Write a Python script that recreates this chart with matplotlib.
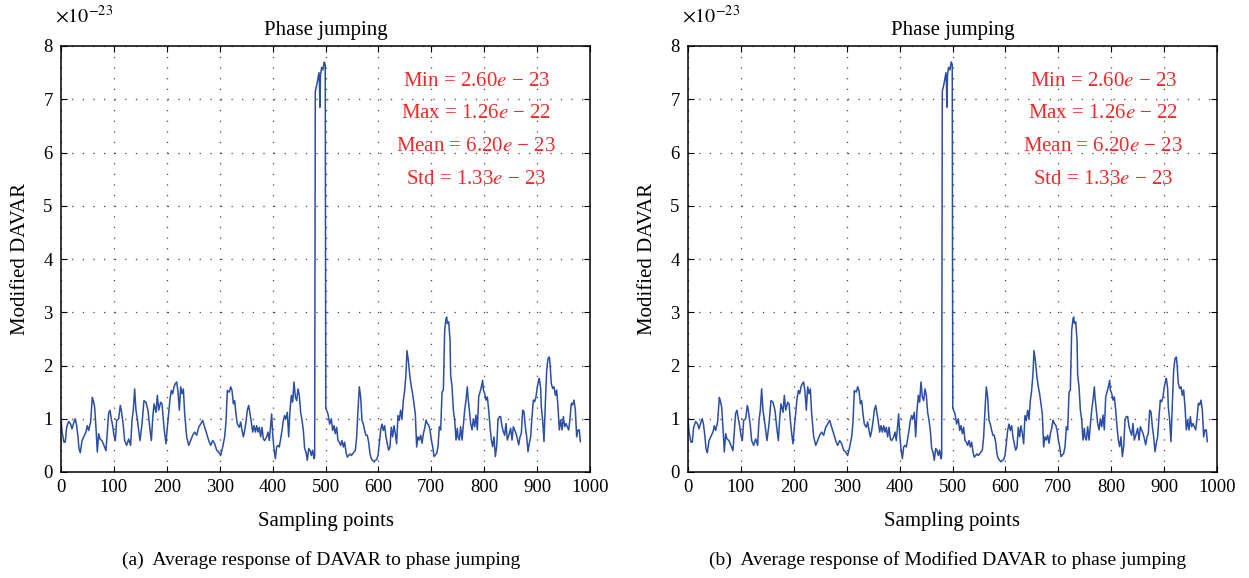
import matplotlib
matplotlib.use("Agg")
import matplotlib.pyplot as plt

plt.rcParams['font.family'] = ['Liberation Serif', 'DejaVu Serif']
plt.rcParams['mathtext.fontset'] = 'stix'

# sampling index and response (x 1e-23)
sample_idx = [
    0, 2, 5.6, 8, 10.7, 14.5, 18.2, 20.8, 24.5, 27, 29.6, 32.1, 34, 36.5, 39.7, 43.4, 47.2, 49.7,
    52.3, 56, 59.2, 61.1, 63.6, 66.8, 68.6, 71.2, 73.7, 77.5, 81.2, 85, 87.5, 90, 92.6, 95.1, 97.6,
    100.1, 102.7, 105.2, 109, 112.1, 114, 117.8, 120.3, 124.1, 127.9, 131.6, 134.2, 136.7, 139.2,
    141.7, 144.2, 146.8, 149.3, 153.1, 156.8, 160.6, 164.4,
    167.7, 170.8, 173.3, 175.8, 179.6, 182.1, 184.7, 188.4, 191, 193.5, 196, 198.5, 201, 203.6,
    206.1, 208.6, 211.1, 213.6, 216.2, 218.7, 221.2, 223.7, 226.2, 228.8, 231.3, 233.8, 237.6,
    241.4, 245.1, 248.9, 252.7, 256.5, 260.3, 264, 267.8, 271.6, 275.4, 279.2, 282.9, 286.7,
    290.5, 294.3, 298.1, 301.8, 305.6, 309.4, 311.9, 314.4, 318.2, 320.7, 323.3, 325.8, 328.3,
    330.8, 333.3,
    337.1, 339.6, 342.2, 344.7, 347.2, 349.7, 352.2, 354.8, 357.3, 359.8, 362.3, 364.8, 367.4,
    369.9, 372.4, 374.9, 377.4, 380, 382.5, 385, 388.8, 391.3, 393.8, 396.3, 398.2, 400.1, 402.6,
    405.2, 407.7, 410.2, 412.7, 415.2, 417.8, 420.3, 422.8, 425.3, 427.8, 430.4, 432.9, 435.4,
    437.9, 440.4, 443, 445.5, 448, 450.5, 453, 455.6, 458.1, 460.6, 463.1, 465.6, 468.2, 470.7,
    473.2, 475.7, 478.2, 479.5,
    480.7, 483, 485, 487.6, 488.5, 489.5, 490.5, 492.7, 495, 497.7, 499.5, 500.5,
    504.7, 507.9, 511, 513.5, 516, 518.6, 521.1, 523.6, 526.1, 528.6, 531.2, 533.7, 536.2, 538.7,
    541.2, 543.8, 546.3, 548.8, 551.3, 553.8, 556.4, 558.9, 561.4, 563.9, 566.4, 569, 571.5, 574,
    576.5, 579, 581.6, 584.1, 586.6, 589.1, 591.6, 594.2, 596.7, 599.2, 601.7, 604.2, 606.8,
    609.3, 611.8, 614.3, 616.8, 619.4, 621.9, 624.4, 626.9, 629.4, 632, 634.5, 637, 639.5, 642,
    644.6, 647.1, 649.6, 652.1, 654, 656.5, 659.7, 662.2, 664.7, 667.2, 669.8, 672.3, 674.8,
    677.4, 679.9, 682.5, 685, 687.5, 690, 692.5, 695.1, 697.6, 700.1, 702.6, 705.1, 707.7, 710.2,
    712.7, 715.2, 717.7, 720.3, 722.8, 725.3, 727.8, 729.1, 730.3, 732.9, 735.4, 736.6, 739.2,
    741.7, 744.2, 746.7, 749.2, 750.5, 753, 755.5, 758.1, 760.6, 763.1, 765.6, 768.1, 769.4,
    771.9, 774.4, 777, 779.5, 782, 784.5, 787, 789.6, 792.1, 794.6, 797.1, 798.4, 800.9, 803.4,
    805.9, 808.5, 811, 813.5, 816, 818.5, 821.1, 823.6, 826.1, 828.6, 831.1, 833.7, 836.2, 838.7,
    841.2, 843.7,
    847.5, 850, 852.6, 855.1, 857.6, 860.1, 862.6, 865.2, 867.7, 870.2, 872.7, 875.2, 877.8,
    880.3, 882.8, 885.3, 887.8, 890.4, 892.9, 895.4, 897.9, 900.4, 903, 904.2, 906.7, 908, 910.5,
    913, 915.6, 918.1, 920.6, 923.1, 924.4, 926.9, 929.4, 931.9, 934.5, 937, 939.5, 942, 944.5,
    947.1, 949.6, 952.1, 954.6, 957.1, 959.7, 962.2, 964.7, 967.2, 969.7, 972.3, 974.8, 977.3,
    979.8, 981.7,
]
davar = [
    1.0, 0.75, 0.56, 0.56, 0.84, 0.95, 0.9, 0.81, 0.94, 1.0, 0.87, 0.66, 0.44, 0.36, 0.59, 0.67, 0.75, 0.87,
    0.78, 0.94, 1.4, 1.34, 1.22, 0.72, 0.375, 0.72, 0.62, 0.59, 0.5, 0.4, 0.75, 1.1, 1.16, 1.0, 0.87,
    0.69, 0.59, 0.97, 1.0, 1.25, 1.16, 0.87, 0.59, 0.5, 0.62, 0.5, 0.97, 1.16, 1.56,
    1.16, 1.0, 0.78, 0.59, 0.9, 1.34, 1.31, 1.16,
    0.84, 0.59, 1.0, 1.28, 1.12, 1.44, 1.16, 1.31, 1.28, 0.97, 0.72, 0.53, 0.84, 1.12,
    1.375, 1.53, 1.47, 1.6, 1.66, 1.69, 1.5, 1.16, 1.6, 1.47, 1.56, 1.09, 0.66,
    0.5, 0.59, 0.69, 0.75, 0.69, 0.84, 0.9, 0.97, 0.84, 0.72, 0.59, 0.5, 0.59,
    0.53, 0.41, 0.375, 0.31, 0.47, 0.66, 0.94, 1.53, 1.5, 1.6, 1.53, 1.28, 1.34,
    1.09, 0.9,
    0.84, 0.94, 0.78, 0.66, 0.78, 0.94, 1.16, 1.25, 1.09, 0.94, 0.75, 0.87, 0.75,
    0.87, 0.75, 0.84, 0.66, 0.84, 0.62, 0.59, 0.66, 0.75, 0.59, 0.87, 1.09, 0.72, 0.44,
    0.25, 0.47, 0.5, 0.47, 0.62, 0.78, 0.97, 1.06, 1.0, 1.12, 0.66, 1.16, 1.44,
    1.31, 1.69, 1.41, 1.34, 1.56, 1.44, 1.12, 0.97, 0.78, 0.44, 0.375, 0.22, 0.44, 0.41,
    0.31, 0.41, 0.25, 0.3,
    7.15, 7.25, 7.35, 7.5, 7.3, 6.85, 7.45, 7.6, 7.55, 7.7, 7.65, 1.2,
    1.09, 0.9, 1.0, 0.78, 0.87, 0.72, 0.84, 0.59, 0.56, 0.5, 0.59, 0.47, 0.56, 0.375,
    0.28, 0.31, 0.34, 0.31, 0.34, 0.375, 0.41, 0.66, 1.16, 1.6, 1.41, 0.97, 0.9, 0.78,
    0.69, 0.69, 0.56, 0.34, 0.25, 0.22, 0.19, 0.22, 0.23, 0.31, 0.53, 0.78, 0.9,
    0.78, 0.87, 0.66, 0.53, 0.41, 0.47, 0.84, 0.66, 0.87, 0.72, 0.53, 1.06, 0.97, 1.16,
    1.0, 1.34, 1.53, 1.84, 2.28, 2.1, 1.78, 1.6, 1.47, 1.28, 1.09, 0.47, 0.66,
    0.6, 0.69, 0.54, 0.72, 0.82, 0.975, 0.91, 0.88, 0.79, 0.6, 0.475, 0.29, 0.32, 0.35,
    0.475, 0.85, 0.79, 1.5, 1.54, 2.66, 2.88, 2.91, 2.79, 2.82, 2.48, 1.82, 1.6,
    1.16, 0.975, 0.6, 0.82, 0.66, 0.6, 0.85, 0.6, 0.88, 1.16, 1.35, 1.6, 1.41,
    1.16, 0.91, 0.79, 1.0, 0.85, 1.07, 0.79, 1.41, 1.5, 1.6, 1.72, 1.54, 1.475, 1.35,
    1.41, 1.16, 0.85, 0.6, 0.475, 0.66, 0.29, 0.475, 0.975, 1.04, 1.04, 0.85, 0.76, 0.69,
    0.91, 0.6,
    0.725, 0.82, 0.6, 0.85, 0.79, 0.725, 0.63, 0.51, 0.66, 0.725, 1.16, 1.13, 0.85,
    0.66, 0.38, 0.54, 0.66, 1.04, 1.35, 1.32, 1.41, 1.6, 1.72, 1.76, 1.57, 1.22, 0.975,
    0.57, 1.29, 1.91, 2.13, 2.16, 2.04, 1.66, 1.57, 1.6, 1.44, 1.54, 1.22, 0.79, 0.975,
    0.79, 1.04, 0.85, 0.91, 0.85, 0.79, 1.0, 1.29, 1.26, 1.35, 1.16, 0.66, 0.79,
    0.79, 0.57,
]

stats_lines = [
    'Min = 2.60$e$ \u2212 23',
    'Max = 1.26$e$ \u2212 22',
    'Mean = 6.20$e$ \u2212 23',
    'Std = 1.33$e$ \u2212 23',
]
stats_y = [7.33, 6.73, 6.12, 5.5]
captions = ['(a)  Average response of DAVAR to phase jumping',
            '(b)  Average response of Modified DAVAR to phase jumping']

W, H = 1249, 578
fig = plt.figure(figsize=(W / 100, H / 100), dpi=100)

line_col = '#2c4ea3'
red = '#ee2a2a'

for k, left_px in enumerate([61, 688]):
    ax = fig.add_axes([left_px / W, 106 / H, 529 / W, 426 / H])
    ax.plot(sample_idx, davar, color=line_col, lw=1.1)
    ax.set_xlim(0, 1000)
    ax.set_ylim(0, 8)
    ax.set_xticks(range(0, 1001, 100))
    ax.set_yticks(range(0, 9))
    ax.tick_params(direction='in', top=True, right=True, length=4, width=0.8,
                   labelsize=13.5, colors='k')
    ax.tick_params(axis='x', pad=5)
    ax.tick_params(axis='y', pad=6)
    ax.grid(True, color='#444444', linestyle=(0, (1, 7.5)), linewidth=0.9)
    for sp in ax.spines.values():
        sp.set_linewidth(1.1)
    ax.set_title('Phase jumping', fontsize=15, pad=8)
    ax.set_xlabel('Sampling points', fontsize=15)
    ax.set_ylabel('Modified DAVAR', fontsize=15)
    ax.xaxis.set_label_coords(0.5, -0.095)
    ax.yaxis.set_label_coords(-0.058, 0.5)
    ax.text(-0.012, 1.055, r'$\times10^{-23}$', transform=ax.transAxes,
            fontsize=14.5, va='baseline', ha='left')
    for txt, yy in zip(stats_lines, stats_y):
        ax.text(785, yy, txt, color=red, fontsize=15, ha='center', va='center')
    fig.text((left_px + 260) / W, 1 - 560 / H, captions[k], fontsize=14,
             ha='center', va='center')

fig.savefig('out.png', dpi=100)
